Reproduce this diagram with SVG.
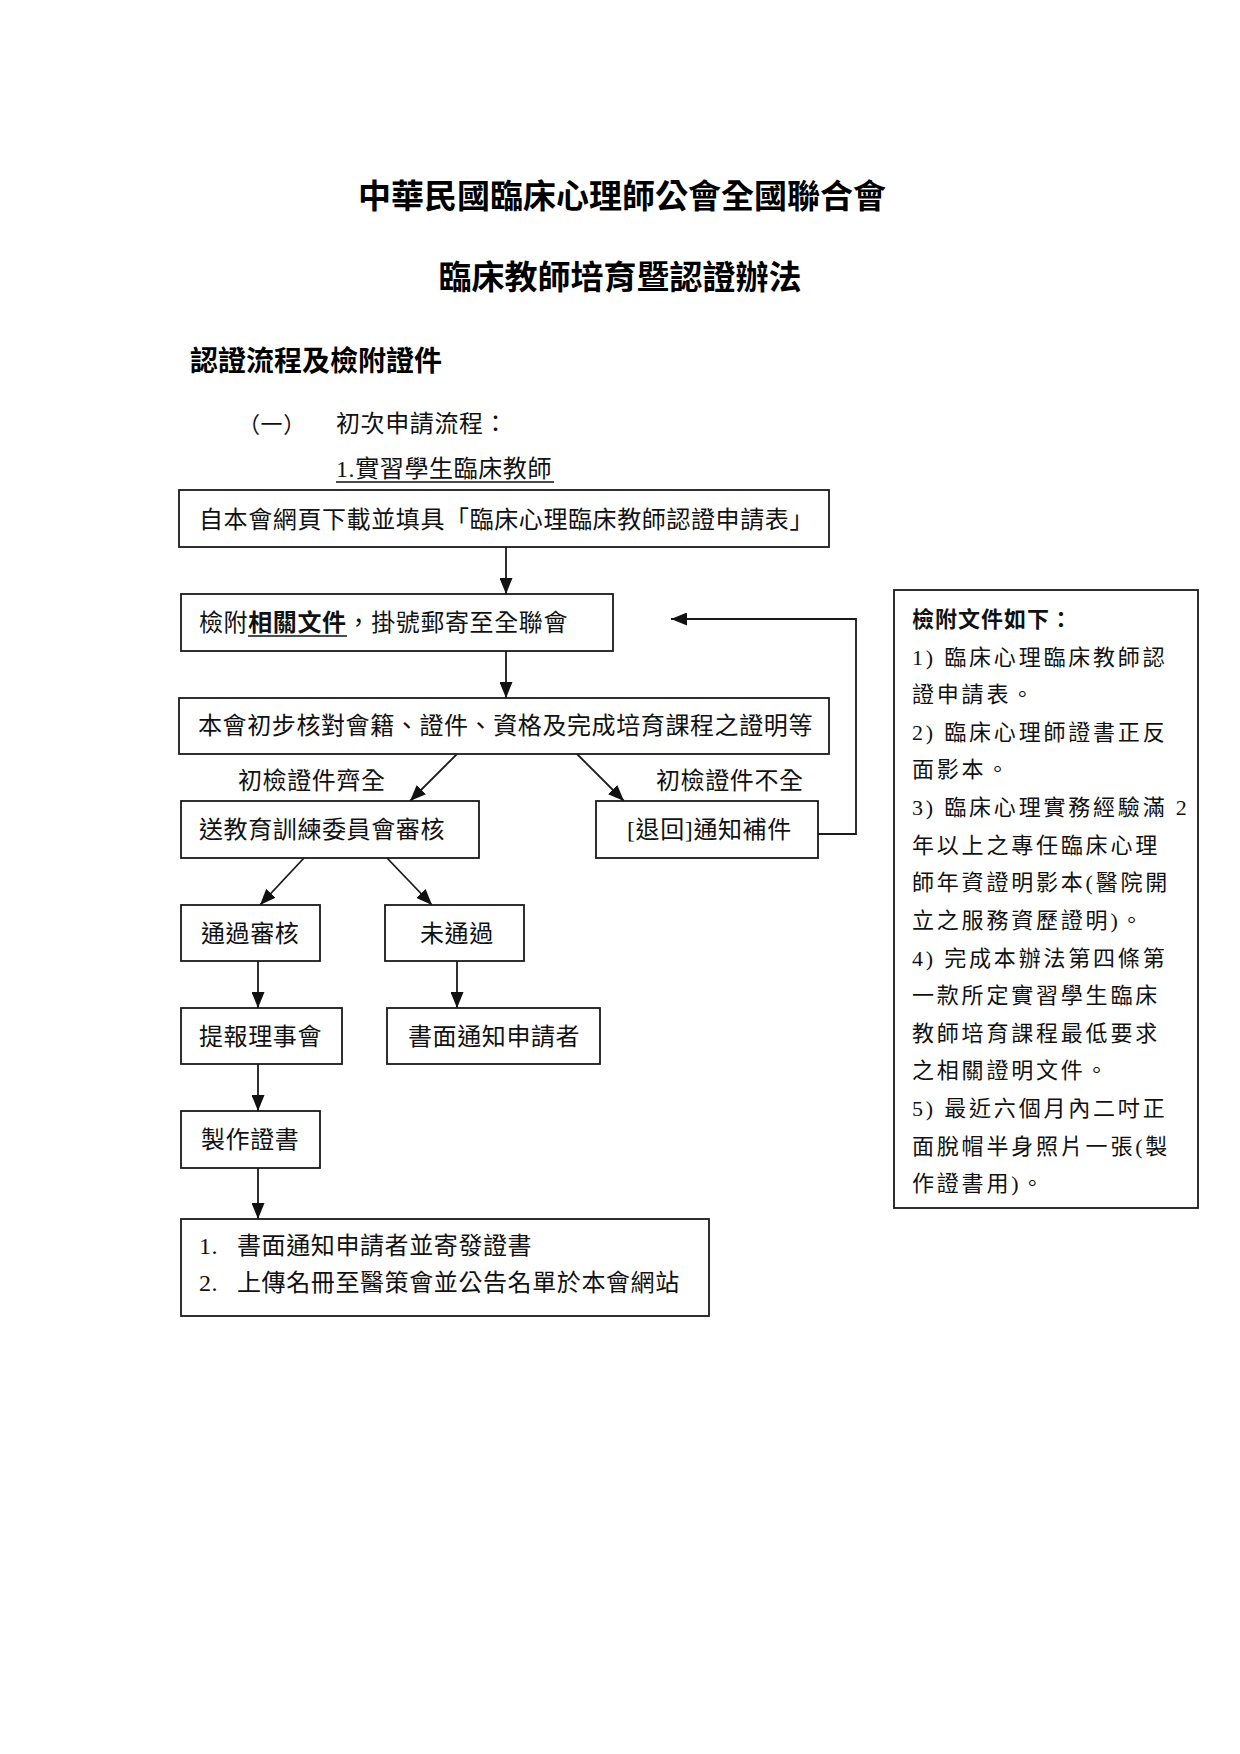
<svg xmlns="http://www.w3.org/2000/svg" width="1240" height="1754" viewBox="0 0 1240 1754">
<style>
  .bg { fill: #ffffff; }
  .box { fill: #ffffff; stroke: #1a1a1a; stroke-width: 1.8; }
  .t { font-family: "Liberation Serif", "Noto Sans CJK TC", serif; font-size: 24px; letter-spacing: 0.6px; fill: #111; }
  .side { font-family: "Liberation Serif", "Noto Sans CJK TC", serif; font-size: 22px; letter-spacing: 2.8px; fill: #111; }
  .title { font-family: "Liberation Serif", "Noto Sans CJK TC", serif; font-size: 33px; font-weight: bold; fill: #000; }
  .head { font-family: "Liberation Serif", "Noto Sans CJK TC", serif; font-size: 28px; font-weight: bold; fill: #000; }
  .b { font-weight: bold; }
  .conn { fill: none; stroke: #1a1a1a; stroke-width: 1.8; }
  .ul { stroke: #111; stroke-width: 1.5; }
</style>
<defs>
  <marker id="arr" markerUnits="userSpaceOnUse" markerWidth="16" markerHeight="13" refX="16" refY="6.5" orient="auto">
    <path d="M0,0 L16,6.5 L0,13 Z" fill="#111"/>
  </marker>
</defs>
<rect class="bg" x="0" y="0" width="1240" height="1754"/>

<g id="titles">
  <text class="title" x="622" y="208" text-anchor="middle">中華民國臨床心理師公會全國聯合會</text>
  <text class="title" x="620" y="289" text-anchor="middle">臨床教師培育暨認證辦法</text>
  <text class="head" x="190" y="371">認證流程及檢附證件</text>
  <text class="t" x="238" y="432" style="font-size:22px">（一）</text>
  <text class="t" x="336" y="432">初次申請流程：</text>
  <text class="t" x="336" y="477">1.實習學生臨床教師</text>
  <line class="ul" x1="336" y1="482" x2="554" y2="482"/>
</g>

<g id="connectors">
  <line class="conn" x1="506" y1="547" x2="506" y2="594" marker-end="url(#arr)"/>
  <line class="conn" x1="506" y1="651" x2="506" y2="698" marker-end="url(#arr)"/>
  <line class="conn" x1="457" y1="754" x2="410" y2="801" marker-end="url(#arr)"/>
  <line class="conn" x1="577" y1="754" x2="624" y2="801" marker-end="url(#arr)"/>
  <polyline class="conn" points="818,834 856,834 856,619 671,619" marker-end="url(#arr)"/>
  <line class="conn" x1="304" y1="858" x2="260" y2="905" marker-end="url(#arr)"/>
  <line class="conn" x1="387" y1="858" x2="432" y2="905" marker-end="url(#arr)"/>
  <line class="conn" x1="258" y1="961" x2="258" y2="1008" marker-end="url(#arr)"/>
  <line class="conn" x1="457" y1="961" x2="457" y2="1008" marker-end="url(#arr)"/>
  <line class="conn" x1="258" y1="1064" x2="258" y2="1111" marker-end="url(#arr)"/>
  <line class="conn" x1="258" y1="1168" x2="258" y2="1219" marker-end="url(#arr)"/>
  <text class="t" x="238" y="789">初檢證件齊全</text>
  <text class="t" x="656" y="789">初檢證件不全</text>
</g>

<g id="n1">
  <rect class="box" x="179" y="490" width="650" height="57"/>
  <text class="t" x="199" y="528">自本會網頁下載並填具「臨床心理臨床教師認證申請表」</text>
</g>
<g id="n2">
  <rect class="box" x="181" y="594" width="432" height="57"/>
  <text class="t" x="199" y="631">檢附<tspan class="b">相關文件</tspan>，掛號郵寄至全聯會</text>
  <line class="ul" x1="248" y1="636" x2="347" y2="636"/>
</g>
<g id="n3">
  <rect class="box" x="179" y="698" width="650" height="56"/>
  <text class="t" x="198" y="734">本會初步核對會籍、證件、資格及完成培育課程之證明等</text>
</g>
<g id="n4">
  <rect class="box" x="181" y="801" width="298" height="57"/>
  <text class="t" x="199" y="838">送教育訓練委員會審核</text>
</g>
<g id="n5">
  <rect class="box" x="596" y="801" width="222" height="57"/>
  <text class="t" x="627" y="838">[退回]通知補件</text>
</g>
<g id="n6">
  <rect class="box" x="181" y="905" width="139" height="56"/>
  <text class="t" x="201" y="942">通過審核</text>
</g>
<g id="n7">
  <rect class="box" x="385" y="905" width="139" height="56"/>
  <text class="t" x="420" y="942">未通過</text>
</g>
<g id="n8">
  <rect class="box" x="181" y="1008" width="161" height="56"/>
  <text class="t" x="199" y="1045">提報理事會</text>
</g>
<g id="n9">
  <rect class="box" x="387" y="1008" width="213" height="56"/>
  <text class="t" x="408" y="1045">書面通知申請者</text>
</g>
<g id="n10">
  <rect class="box" x="181" y="1111" width="139" height="57"/>
  <text class="t" x="201" y="1148">製作證書</text>
</g>
<g id="n11">
  <rect class="box" x="181" y="1219" width="528" height="97"/>
  <text class="t" x="199" y="1254">1.</text>
  <text class="t" x="237" y="1254">書面通知申請者並寄發證書</text>
  <text class="t" x="199" y="1291">2.</text>
  <text class="t" x="237" y="1291">上傳名冊至醫策會並公告名單於本會網站</text>
</g>

<g id="side">
  <rect class="box" x="894" y="590" width="304" height="618"/>
  <text class="side b" x="912" y="627" style="letter-spacing:1px">檢附文件如下：</text>
  <text class="side" x="912" y="665">1) 臨床心理臨床教師認</text>
  <text class="side" x="912" y="702">證申請表。</text>
  <text class="side" x="912" y="740">2) 臨床心理師證書正反</text>
  <text class="side" x="912" y="777">面影本。</text>
  <text class="side" x="912" y="815">3) 臨床心理實務經驗滿 2</text>
  <text class="side" x="912" y="853">年以上之專任臨床心理</text>
  <text class="side" x="912" y="890">師年資證明影本(醫院開</text>
  <text class="side" x="912" y="928">立之服務資歷證明)。</text>
  <text class="side" x="912" y="966">4) 完成本辦法第四條第</text>
  <text class="side" x="912" y="1003">一款所定實習學生臨床</text>
  <text class="side" x="912" y="1041">教師培育課程最低要求</text>
  <text class="side" x="912" y="1078">之相關證明文件。</text>
  <text class="side" x="912" y="1116">5) 最近六個月內二吋正</text>
  <text class="side" x="912" y="1154">面脫帽半身照片一張(製</text>
  <text class="side" x="912" y="1191">作證書用)。</text>
</g>
</svg>
